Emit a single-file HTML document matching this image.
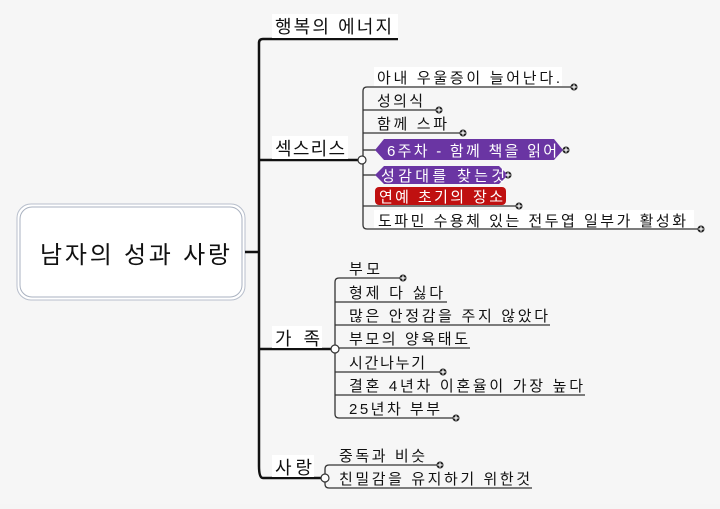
<!DOCTYPE html>
<html><head><meta charset="utf-8"><style>
html,body{margin:0;padding:0;background:#f5f5f5;}
svg text{font-family:"Liberation Sans","Noto Sans CJK KR",sans-serif;font-size:15px;fill:#111;}
</style></head><body>
<svg width="720" height="504" viewBox="0 0 720 504" xmlns="http://www.w3.org/2000/svg">
<rect width="720" height="504" fill="#f6f6f6"/>
<rect x="17" y="204" width="228" height="96" rx="14" fill="#fff" stroke="#b8bfcc" stroke-width="1"/>
<rect x="20" y="207" width="222" height="90" rx="12" fill="#fff" stroke="#aab2c0" stroke-width="1"/>
<text x="40" y="263" style="font-size:24px" textLength="190" lengthAdjust="spacing">남자의 성과 사랑</text>
<g fill="none" stroke="#111" stroke-width="2.5">
<path d="M245 252 H259"/>
<path d="M398 39 H263 Q259 39 259 43 V466 Q259 478 263 478 H323"/>
<path d="M259 160 H360"/>
<path d="M259 349 H333"/>
</g>
<rect x="272" y="14" width="126" height="24" fill="#fff"/>
<text x="275" y="33" style="font-size:18px" textLength="117" lengthAdjust="spacing">행복의 에너지</text>
<rect x="272" y="136" width="76" height="23" fill="#fff"/>
<text x="275" y="155" style="font-size:18px" textLength="70" lengthAdjust="spacing">섹스리스</text>
<rect x="272" y="326" width="50" height="22" fill="#fff"/>
<text x="275" y="345" style="font-size:18px" textLength="45" lengthAdjust="spacing">가족</text>
<rect x="272" y="455" width="42" height="22" fill="#fff"/>
<text x="275" y="474" style="font-size:18px" textLength="37" lengthAdjust="spacing">사랑</text>
<g fill="none" stroke="#333" stroke-width="1.3">
<path d="M574 87 H367 Q363 87 363 91 V225 Q363 229 367 229 H701"/>
<path d="M363 110 H439"/><path d="M363 133 H463"/>
<path d="M363 150 H376"/><path d="M363 175 H376"/><path d="M363 206 H519"/>
<path d="M403 278 H339 Q335 278 335 282 V414 Q335 418 339 418 H456"/>
<path d="M335 302 H447"/><path d="M335 325 H550"/><path d="M335 348 H470"/>
<path d="M335 372 H443"/><path d="M335 395 H585"/>
<path d="M440 465 H329 Q325 465 325 469 V484 Q325 488 329 488 H532"/>
</g>
<g fill="#fff" stroke="#333" stroke-width="1.2">
<circle cx="362" cy="160" r="4"/><circle cx="335" cy="349" r="4"/><circle cx="325" cy="478" r="4"/>
</g>
<g fill="#222">
<circle cx="574" cy="87" r="3.5"/><circle cx="439" cy="110" r="3.5"/><circle cx="463" cy="133" r="3.5"/>
<circle cx="566" cy="150" r="3.5"/><circle cx="508" cy="175" r="3.5"/><circle cx="519" cy="206" r="3.5"/>
<circle cx="701" cy="229" r="3.5"/><circle cx="403" cy="278" r="3.5"/><circle cx="443" cy="372" r="3.5"/>
<circle cx="456" cy="418" r="3.5"/><circle cx="440" cy="465" r="3.5"/>
</g>
<polygon points="375,150 384,139 554,139 563,150 554,160 384,160" fill="#6a35a3"/>
<polygon points="375,175 384,166 499,166 508,175 499,184 384,184" fill="#6a35a3"/>
<rect x="375" y="187" width="131" height="18" rx="4" fill="#c01010"/>
<g>
<rect x="374" y="67" width="188" height="19" fill="#fff"/>
<text x="377" y="83" textLength="183" lengthAdjust="spacing">아내 우울증이 늘어난다.</text>
<text x="377" y="106" textLength="46" lengthAdjust="spacing">성의식</text>
<text x="377" y="129" textLength="70" lengthAdjust="spacing">함께 스파</text>
<text x="387" y="156" style="fill:#fff" textLength="170" lengthAdjust="spacing">6주차 - 함께 책을 읽어</text>
<text x="381" y="181" style="fill:#fff" textLength="124" lengthAdjust="spacing">성감대를 찾는것</text>
<text x="379" y="202" style="fill:#fff" textLength="124" lengthAdjust="spacing">연예 초기의 장소</text>
<rect x="374" y="210" width="320" height="18" fill="#fff"/>
<text x="378" y="226" textLength="308" lengthAdjust="spacing">도파민 수용체 있는 전두엽 일부가 활성화</text>
<text x="349" y="274" textLength="31" lengthAdjust="spacing">부모</text>
<text x="349" y="298" textLength="94" lengthAdjust="spacing">형제 다 싫다</text>
<text x="349" y="321" textLength="199" lengthAdjust="spacing">많은 안정감을 주지 않았다</text>
<text x="349" y="344" textLength="119" lengthAdjust="spacing">부모의 양육태도</text>
<text x="349" y="368" textLength="76" lengthAdjust="spacing">시간나누기</text>
<text x="349" y="391" textLength="234" lengthAdjust="spacing">결혼 4년차 이혼율이 가장 높다</text>
<text x="349" y="414" textLength="91" lengthAdjust="spacing">25년차 부부</text>
<text x="339" y="461" textLength="86" lengthAdjust="spacing">중독과 비슷</text>
<text x="339" y="484" textLength="191" lengthAdjust="spacing">친밀감을 유지하기 위한것</text>
</g>
<g stroke="#fff" stroke-width="1.2"><path d="M571.5 87 h5 M574 84.5 v5 M436.5 110 h5 M439 107.5 v5 M460.5 133 h5 M463 130.5 v5 M563.5 150 h5 M566 147.5 v5 M505.5 175 h5 M508 172.5 v5 M516.5 206 h5 M519 203.5 v5 M698.5 229 h5 M701 226.5 v5 M400.5 278 h5 M403 275.5 v5 M440.5 372 h5 M443 369.5 v5 M453.5 418 h5 M456 415.5 v5 M437.5 465 h5 M440 462.5 v5"/></g>
</svg>
</body></html>
